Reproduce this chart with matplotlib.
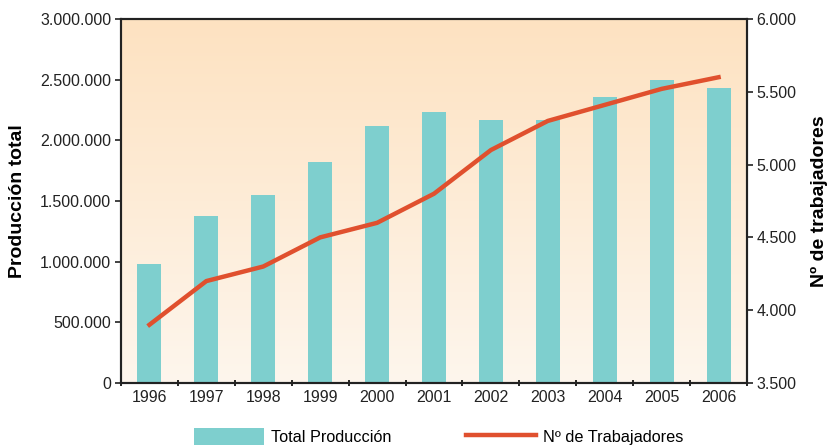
import matplotlib.pyplot as plt
import numpy as np
from matplotlib.ticker import FuncFormatter

plt.rcParams['font.family'] = ['Liberation Sans', 'DejaVu Sans']

# datos
anios = ['1996', '1997', '1998', '1999', '2000', '2001', '2002', '2003', '2004', '2005', '2006']
produccion = [980000, 1375000, 1550000, 1825000, 2120000, 2235000, 2170000, 2170000, 2355000, 2500000, 2435000]
trabajadores = [3900, 4200, 4300, 4500, 4600, 4800, 5100, 5300, 5410, 5520, 5600]

def miles(v, pos):
    return '{:,.0f}'.format(v).replace(',', '.')

fig = plt.figure(figsize=(8.28, 4.48), dpi=100)
ax = fig.add_axes([0.1461, 0.1451, 0.7561, 0.8125])
x = np.arange(len(anios))

# fondo degradado
grad = np.linspace(0, 1, 256).reshape(-1, 1)
top = np.array([253, 226, 193]) / 255
bot = np.array([254, 246, 237]) / 255
img = top * (1 - grad[..., None]) + bot * grad[..., None]
ax.imshow(img, extent=[-0.5, 10.5, 0, 3000000], aspect='auto', zorder=0, origin='upper')

barras = ax.bar(x, produccion, width=0.42, color='#7ecfce', zorder=2, label='Total Producción')
ax.set_xlim(-0.5, 10.5)
ax.set_ylim(0, 3000000)
ax.set_yticks(np.arange(0, 3000001, 500000))
ax.yaxis.set_major_formatter(FuncFormatter(miles))
ax.set_xticks(x)
ax.set_xticklabels(anios)
ax.set_xticks(np.arange(-0.5, 11, 1), minor=True)
ax.tick_params(axis='x', which='major', length=0, pad=5)
ax.tick_params(axis='x', which='minor', length=5, width=1.2, direction='inout')
ax.tick_params(axis='y', length=4, width=1.2, pad=3)
ax.tick_params(labelsize=11.5, colors='#222222')
for s in ax.spines.values():
    s.set_linewidth(1.5)
    s.set_color('#222222')
ax.set_ylabel('Producción total', fontsize=14, fontweight='bold', labelpad=10)

ax2 = ax.twinx()
linea, = ax2.plot(x, trabajadores, color='#e0502e', lw=3.2, label='Nº de Trabajadores', zorder=3)
ax2.set_ylim(3500, 6000)
ax2.set_yticks(np.arange(3500, 6001, 500))
ax2.yaxis.set_major_formatter(FuncFormatter(miles))
ax2.tick_params(axis='y', length=4, width=1.2, labelsize=11.5, colors='#222222', pad=3)
for s in ax2.spines.values():
    s.set_linewidth(1.5)
    s.set_color('#222222')
ax2.set_ylabel('Nº de trabajadores', fontsize=14, fontweight='bold', labelpad=10)

fig.legend(handles=[barras, linea], loc='lower center', bbox_to_anchor=(0.53, -0.027),
           ncol=2, frameon=False, fontsize=11.7, handlelength=4.3, handleheight=1.3,
           handletextpad=0.45, columnspacing=4.6)

plt.savefig('out.png', dpi=100)
